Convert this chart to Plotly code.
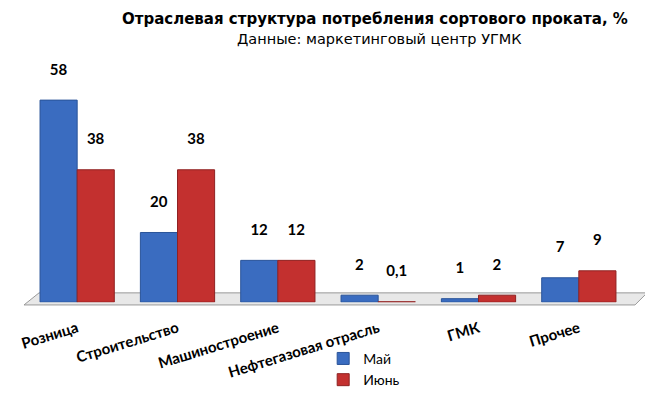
import plotly.graph_objects as go

categories = ["Розница", "Строительство", "Машиностроение", "Нефтегазовая отрасль", "ГМК", "Прочее"]
may = [58, 20, 12, 2, 1, 7]
june = [38, 38, 12, 0.1, 2, 9]
may_labels = ["58", "20", "12", "2", "1", "7"]
june_labels = ["38", "38", "12", "0,1", "2", "9"]
title_text = "Отраслевая структура потребления сортового проката, %"
subtitle_text = "Данные: маркетинговый центр УГМК"

BLUE = "#3a6cc0"
RED = "#c3302f"
FONT = "Lato, 'Open Sans', sans-serif"
TFONT = "'DejaVu Sans', Verdana, sans-serif"

fig = go.Figure()
for name, vals, labels, color, edge in [("Май", may, may_labels, BLUE, "#2a5499"),
                                          ("Июнь", june, june_labels, RED, "#8f2222")]:
    fig.add_trace(go.Bar(
        name=name, x=categories, y=vals,
        marker=dict(color=color, line=dict(color=edge, width=1)),
        text=[lab + "<br> " for lab in labels], textposition="outside", cliponaxis=False,
        textfont=dict(family=FONT, size=15, color="black", weight="bold")))

# floor
fig.add_shape(type="path", xref="paper", yref="y domain",
              path="M -0.005,-0.012 L 0.02,0.04 L 1.03,0.04 L 1.01,-0.012 Z",
              fillcolor="#e8e8e8", line=dict(color="#9a9a9a", width=1), layer="below")

fig.add_annotation(text="<b>" + title_text + "</b>", xref="paper", yref="paper",
                   x=0.578, y=1.0, yshift=-12, xanchor="center", yanchor="bottom",
                   showarrow=False, font=dict(family=TFONT, size=15, color="black"))
fig.add_annotation(text=subtitle_text, xref="paper", yref="paper",
                   x=0.585, y=1.0, yshift=-31, xanchor="center", yanchor="bottom",
                   showarrow=False, font=dict(family=TFONT, size=14.5, color="black"))

fig.update_layout(
    width=653, height=398,
    margin=dict(l=19, r=32, t=10, b=10),
    paper_bgcolor="white", plot_bgcolor="white",
    barmode="group", bargap=0.26, bargroupgap=0.0,
    xaxis=dict(tickangle=-17, tickfont=dict(family=FONT, size=15, color="black", weight="bold"),
               showline=False, ticks="", showgrid=False, automargin=False, ticklabelstandoff=14),
    yaxis=dict(range=[0, 66.7], visible=False, showgrid=False, domain=[0.232, 0.86]),
    legend=dict(orientation="v", x=0.492, y=0.122, xanchor="left", yanchor="top",
                font=dict(family=FONT, size=14, color="black"), itemwidth=30, tracegroupgap=10,
                bgcolor="rgba(0,0,0,0)"),
    showlegend=True,
)
fig.write_html("out.html")
